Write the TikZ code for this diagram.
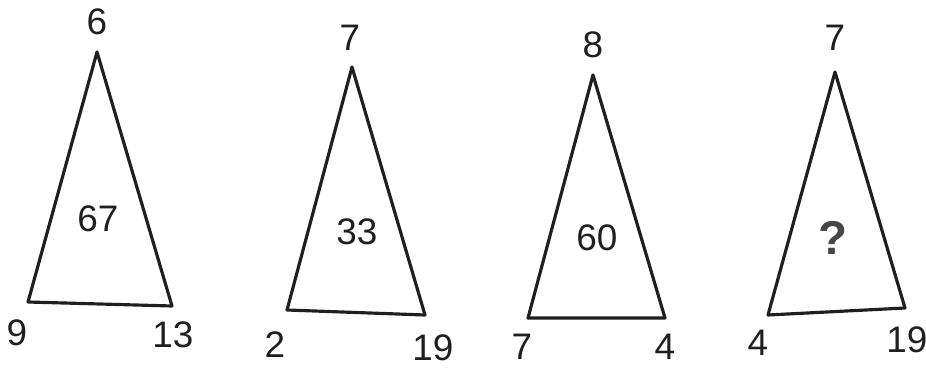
\documentclass[tikz,border=0pt]{standalone}
\usepackage{fontspec}
\setmainfont{Liberation Sans}
\usepackage{tikz}
\usetikzlibrary{positioning}
\colorlet{cInk}{black!88}
\colorlet{cQuery}{black!72}

\tikzset{
  tri/.style={draw=cInk, line width=1.8pt, line join=round},
  num/.style={inner sep=0pt, text=cInk, font=\fontsize{21}{24}\selectfont},
}

\begin{document}
\begin{tikzpicture}
    \useasboundingbox (0,0) rectangle (18.52,7.38);
    % First
    \coordinate (a1) at (1.94,6.34); \coordinate (b1) at (0.56,1.34); \coordinate (c1) at (3.44,1.26);
    \draw[tri] (a1) -- (b1) -- (c1) -- cycle;
    \node[num] (top1) at (1.94,6.94) {6};
    \node[num] (left1) at (0.34,0.72) {9};
    \node[num] (right1) at (3.46,0.68) {13};
    \node[num] (mid1) at (1.96,3.0) {67};
    % Second
    \coordinate (a2) at (7.04,6.04); \coordinate (b2) at (5.74,1.18); \coordinate (c2) at (8.5,1.08);
    \draw[tri] (a2) -- (b2) -- (c2) -- cycle;
    \node[num] (top2) at (7.0,6.62) {7};
    \node[num] (left2) at (5.5,0.48) {2};
    \node[num] (right2) at (8.66,0.42) {19};
    \node[num] (mid2) at (7.14,2.74) {33};
    % Third
    \coordinate (a3) at (11.86,5.88); \coordinate (b3) at (10.56,1.02); \coordinate (c3) at (13.3,1.02);
    \draw[tri] (a3) -- (b3) -- (c3) -- cycle;
    \node[num] (top3) at (11.86,6.48) {8};
    \node[num] (left3) at (10.44,0.44) {7};
    \node[num] (right3) at (13.3,0.44) {4};
    \node[num] (mid3) at (11.94,2.62) {60};
    % Fourth
    \coordinate (a4) at (16.7,5.94); \coordinate (b4) at (15.36,1.08); \coordinate (c4) at (18.1,1.22);
    \draw[tri] (a4) -- (b4) -- (c4) -- cycle;
    \node[num] (top4) at (16.7,6.62) {7};
    \node[num] (left4) at (15.16,0.52) {4};
    \node[num] (right4) at (18.14,0.58) {19};
    \node[num, text=cQuery, font=\fontsize{27}{30}\selectfont\bfseries] (mid4) at (16.66,2.62) {?};
\end{tikzpicture}
\end{document}
